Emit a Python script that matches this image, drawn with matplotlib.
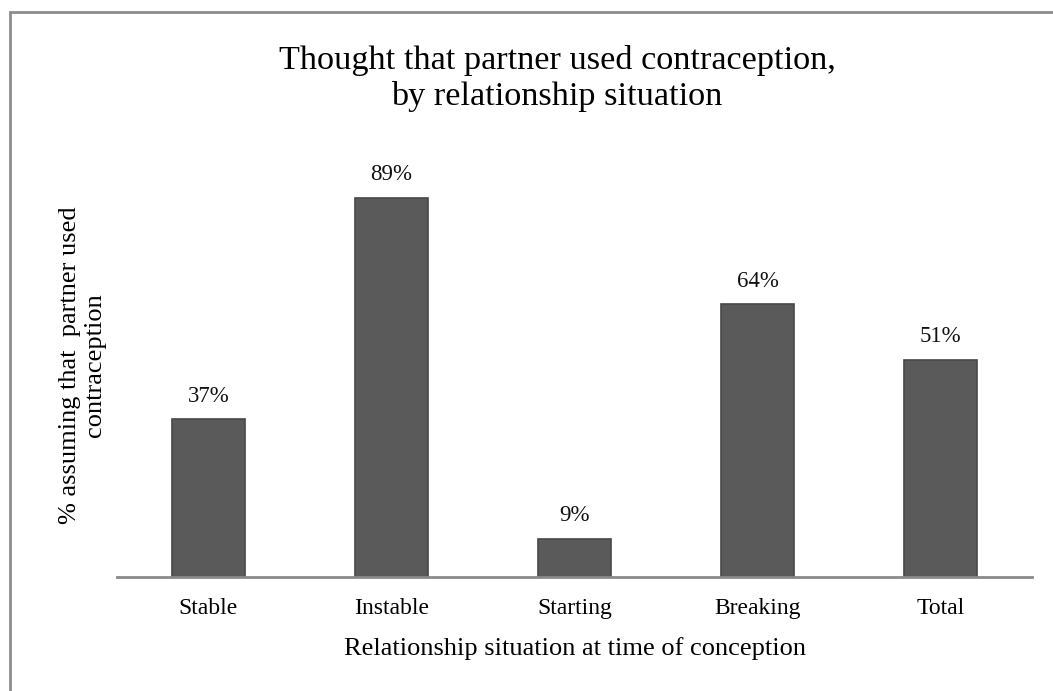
import numpy as np
import matplotlib.pyplot as plt
from matplotlib.patches import Rectangle

categories = ["Stable", "Instable", "Starting", "Breaking", "Total"]
values = [37, 89, 9, 64, 51]
bar_labels = ["37%", "89%", "9%", "64%", "51%"]

plt.rcParams['font.family'] = ['Liberation Serif', 'DejaVu Serif']

fig = plt.figure(figsize=(10.53, 6.91), dpi=100)

# gray frame, only top and left edges show in the reference (it runs off the picture)
fig.patches.append(Rectangle((10 / 1053, -0.1), 1.2, 1 - 12 / 691 + 0.1,
                             transform=fig.transFigure, fill=False,
                             edgecolor='#8c8c8c', linewidth=2))

ax = fig.add_axes([117 / 1053, 1 - 577 / 691, (1032 - 117) / 1053, (577 - 160) / 691])
x = np.arange(len(categories))
ax.bar(x, values, width=0.4, color='#5a5a5a', edgecolor='#484848', linewidth=1.2)
for xi, v, lab in zip(x, values, bar_labels):
    ax.text(xi, v + 3.0, lab, ha='center', va='bottom', fontsize=16.5, color='#111111')

ax.set_xlim(-0.5, 4.5)
ax.set_ylim(0, 97.9)
ax.set_xticks(x)
ax.set_xticklabels(categories, fontsize=17)
ax.tick_params(axis='x', length=0, pad=15)
ax.set_yticks([])
for s in ['top', 'right', 'left']:
    ax.spines[s].set_visible(False)
ax.spines['bottom'].set_color('#8a8a8a')
ax.spines['bottom'].set_linewidth(2)
ax.set_xlabel("Relationship situation at time of conception", fontsize=19, labelpad=13)

fig.text(557 / 1053, 1 - 60 / 691, "Thought that partner used contraception,",
         ha='center', va='center', fontsize=24.7)
fig.text(557 / 1053, 1 - 97 / 691, "by relationship situation",
         ha='center', va='center', fontsize=24.7)

fig.text(82.5 / 1053, 1 - 365 / 691, "% assuming that  partner used\ncontraception",
         rotation=90, ha='center', va='center', multialignment='center',
         fontsize=19, linespacing=1.2)

fig.savefig("out.png", dpi=100)
